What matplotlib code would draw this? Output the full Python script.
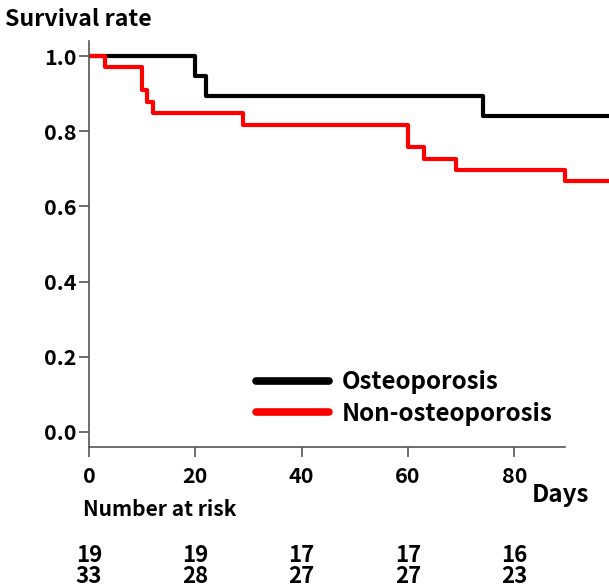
import matplotlib
matplotlib.use("Agg")
import matplotlib.pyplot as plt

plt.rcParams["font.family"] = ["Noto Sans CJK KR", "DejaVu Sans"]
plt.rcParams["font.weight"] = "bold"

# Kaplan-Meier curves (days, survival)
osteo_days = [0, 20, 22, 74, 97.5]
osteo_surv = [1.0, 0.947, 0.895, 0.842, 0.842]

non_osteo_days = [0, 3, 10, 11, 12, 29, 60, 63, 69, 89.5, 97.5]
non_osteo_surv = [1.0, 0.970, 0.909, 0.879, 0.848, 0.818, 0.758, 0.727, 0.697, 0.667, 0.667]

risk_days = [0, 20, 40, 60, 80]
risk_osteo = [19, 19, 17, 17, 16]
risk_non_osteo = [33, 28, 27, 27, 23]

x_ticks = [0, 20, 40, 60, 80]
y_ticks = [0.0, 0.2, 0.4, 0.6, 0.8, 1.0]

fig = plt.figure(figsize=(6.09, 5.88), dpi=100)
ax = fig.add_axes([0.146, 0.240, 0.856, 0.690])

ax.step(osteo_days, osteo_surv, where="post", color="black", lw=3, label="Osteoporosis")
ax.step(non_osteo_days, non_osteo_surv, where="post", color="#ff0000", lw=3,
        label="Non-osteoporosis")

ax.set_xlim(0, 98)
ax.set_ylim(-0.04, 1.04)
ax.set_xticks(x_ticks)
ax.set_yticks(y_ticks)
ax.set_yticklabels([f"{v:.1f}" for v in y_ticks])

for side in ["top", "right"]:
    ax.spines[side].set_visible(False)
for side in ["left", "bottom"]:
    ax.spines[side].set_color("#555555")
    ax.spines[side].set_linewidth(1.2)
ax.spines["bottom"].set_bounds(0, 89.5)

ax.tick_params(axis="both", length=7, width=1.2, color="#555555", labelsize=15.5)
ax.tick_params(axis="x", pad=7)
ax.tick_params(axis="y", pad=2)
for lbl in ax.get_xticklabels() + ax.get_yticklabels():
    lbl.set_fontweight("bold")

leg = ax.legend(loc="upper left", bbox_to_anchor=(256 / 609, 1 - 370 / 588),
                bbox_transform=fig.transFigure, frameon=False, fontsize=17.4,
                handlelength=3.0, handletextpad=0.55, labelspacing=0.32,
                borderpad=0, borderaxespad=0)
for line in leg.get_lines():
    line.set_linewidth(5.5)
    line.set_solid_capstyle("round")

fig.text(5 / 609, 1 - 20 / 588, "Survival rate", fontsize=16.7, fontweight="bold",
         va="center", ha="left")
fig.text(560 / 609, 1 - 495 / 588, "Days", fontsize=17.4, fontweight="bold",
         va="center", ha="center")
fig.text(83 / 609, 1 - 510 / 588, "Number at risk", fontsize=15.1, fontweight="bold",
         va="center", ha="left")

# number at risk: osteoporosis row above, non-osteoporosis row below
for d, a, b in zip(risk_days, risk_osteo, risk_non_osteo):
    ax.annotate(f"{a}\n{b}", xy=(d, 0), xycoords=("data", "figure fraction"),
                xytext=(0, 1 - 566 / 588), textcoords=("offset points", "figure fraction"),
                ha="center", va="center", fontsize=16, fontweight="bold",
                linespacing=0.85)

fig.savefig("out.png", dpi=100)
